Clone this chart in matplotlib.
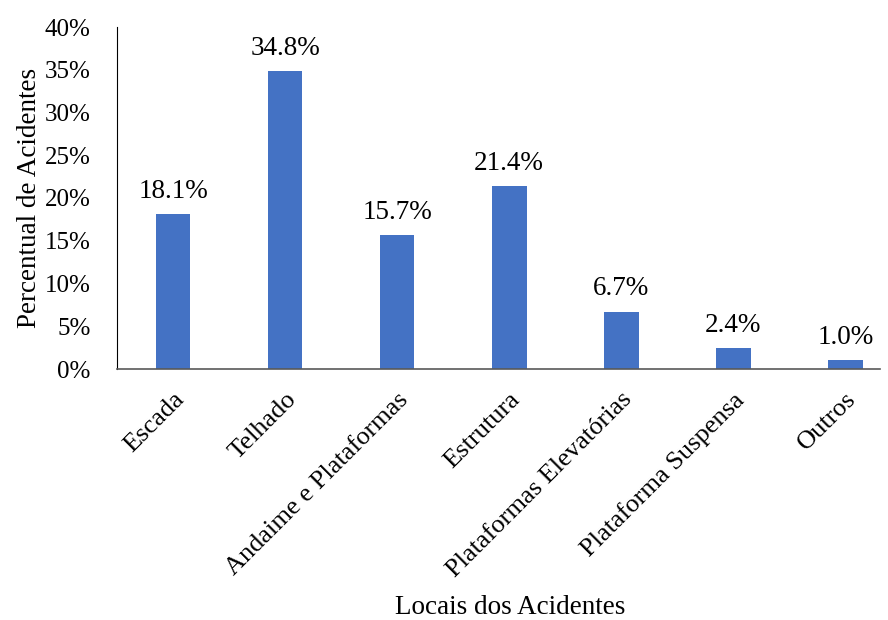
import matplotlib.pyplot as plt
from matplotlib.ticker import FuncFormatter

categorias = ["Escada", "Telhado", "Andaime e Plataformas", "Estrutura",
              "Plataformas Elevatórias", "Plataforma Suspensa", "Outros"]
percentuais = [18.1, 34.8, 15.7, 21.4, 6.7, 2.4, 1.0]

plt.rcParams['font.family'] = ['Liberation Serif', 'DejaVu Serif']

fig = plt.figure(figsize=(8.88, 6.2), dpi=100)
ax = fig.add_axes([117/888, 1 - 369/620, (880 - 117)/888, (369 - 27)/620])

x = range(len(categorias))
ax.bar(x, percentuais, width=0.31, color='#4472C4')

for xi, v in zip(x, percentuais):
    ax.text(xi, v + 1.2, f"{v:.1f}%", ha='center', va='bottom', fontsize=19.5)

ax.set_ylim(0, 40)
ax.set_xlim(-0.5, 6.31)
ax.set_yticks(range(0, 41, 5))
ax.yaxis.set_major_formatter(FuncFormatter(lambda v, p: f"{v:.0f}%"))
ax.set_xticks(list(x))
ax.set_xticklabels(categorias, rotation=45, ha='right', rotation_mode='anchor')
ax.tick_params(axis='both', length=0)
ax.tick_params(axis='x', pad=14, labelsize=19)
ax.tick_params(axis='y', pad=19, labelsize=18)

for s in ['top', 'right']:
    ax.spines[s].set_visible(False)
ax.spines['left'].set_color('black')
ax.spines['bottom'].set_color('#595959')
ax.spines['bottom'].set_linewidth(1.2)

ax.set_ylabel("Percentual de Acidentes", fontsize=19.5, labelpad=2)
fig.text(510/888, 1 - 607/620, "Locais dos Acidentes",
         ha='center', va='center', fontsize=19.5)

fig.savefig("out.png", dpi=100)
